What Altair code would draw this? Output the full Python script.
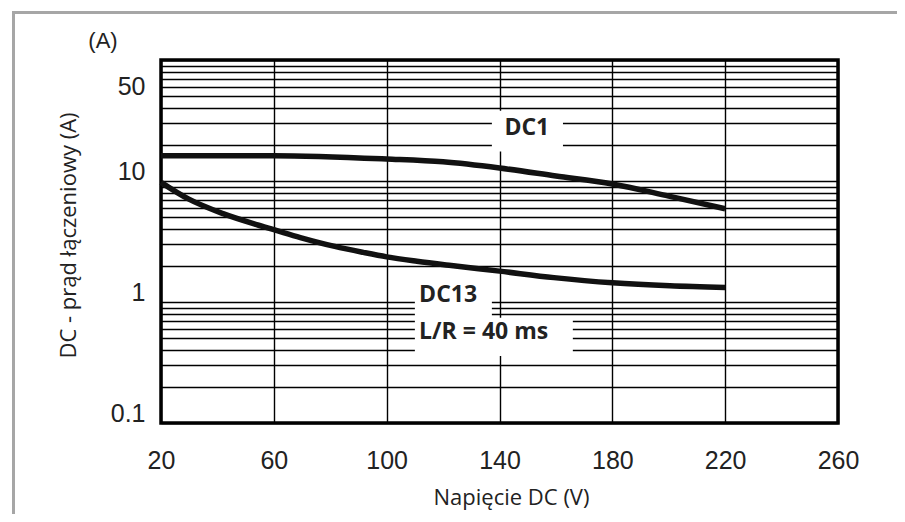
import altair as alt
import pandas as pd

# DC1 curve
dc1_v = [20, 60, 100, 120, 140, 160, 180, 200, 220]
dc1_a = [16.2, 16.2, 15.2, 14.4, 12.8, 11.0, 9.45, 7.5, 5.9]
# DC13 curve
dc13_v = [20, 29.7, 42, 53.9, 60, 69.4, 81.6, 91.7, 100, 110.7, 122.9, 140, 159.3, 180, 200.4, 220]
dc13_a = [9.75, 7.11, 5.37, 4.36, 3.96, 3.41, 2.88, 2.57, 2.36, 2.17, 2.00, 1.80, 1.59, 1.44, 1.36, 1.32]

x_ticks = [20, 60, 100, 140, 180, 220, 260]
y_grid = [0.1, 0.2, 0.3, 0.4, 0.5, 0.6, 0.7, 0.8, 0.9,
          1, 2, 3, 4, 5, 6, 7, 8, 9,
          10, 20, 30, 40, 50, 60, 70, 80, 90, 100]
y_labels = [0.1, 1, 10, 50]

# annotation boxes (white, break the grid) and texts
box_x1 = [137.3, 110.0, 110.0]
box_x2 = [162.5, 137.3, 166.0]
box_y1 = [17.5, 0.74, 0.358]
box_y2 = [38.0, 1.04, 0.74]
note_text = ["DC1", "DC13", "L/R = 40 ms"]
note_x = [149.7, 111.5, 111.5]
note_y = [27.4, 1.14, 0.565]
note_align = ["center", "left", "left"]

curves = pd.DataFrame(
    {"v": dc1_v + dc13_v,
     "a": dc1_a + dc13_a,
     "s": ["DC1"] * len(dc1_v) + ["DC13"] * len(dc13_v)}
)
boxes = pd.DataFrame({"x1": box_x1, "x2": box_x2, "y1": box_y1, "y2": box_y2})
notes = pd.DataFrame({"t": note_text, "x": note_x, "y": note_y, "al": note_align})

xscale = alt.Scale(domain=[20, 260], nice=False, zero=False)
yscale = alt.Scale(type="log", domain=[0.1, 100], nice=False)

label_expr = "indexof([0.1, 1, 10, 50], datum.value) >= 0 ? format(datum.value, '~g') : ''"

xaxis = alt.Axis(
    values=x_ticks, grid=True, gridColor="#000000", gridWidth=1.4, gridOpacity=1,
    ticks=False, domain=False, labelFont="Liberation Sans", labelFontSize=25,
    labelColor="#222222", labelPadding=25, labelFlush=False,
    title="Napięcie DC (V)", titleFont="Open Sans", titleFontSize=22,
    titleFontWeight="normal", titleColor="#222222", titleX=350, titleY=74,
    titleBaseline="middle", titleAlign="center",
)
yaxis = alt.Axis(
    values=y_grid, grid=True, gridColor="#000000", gridWidth=1.4, gridOpacity=1,
    ticks=False, domain=False, labelExpr=label_expr, labelFont="Liberation Sans",
    labelFontSize=25, labelColor="#222222", labelPadding=16, labelOffset=-10,
    labelFlush=False, labelOverlap=False,
    title="DC - prąd łączeniowy (A)", titleFont="Open Sans", titleFontSize=22,
    titleFontWeight="normal", titleColor="#222222", titleX=-93, titleY=175,
    titleBaseline="middle", titleAlign="center", titleAngle=270,
)

base_axes = alt.Chart(curves).mark_line(opacity=0).encode(
    x=alt.X("v:Q", scale=xscale, axis=xaxis),
    y=alt.Y("a:Q", scale=yscale, axis=yaxis),
)

rects = alt.Chart(boxes).mark_rect(color="white", opacity=1).encode(
    x=alt.X("x1:Q", scale=xscale), x2="x2:Q",
    y=alt.Y("y1:Q", scale=yscale), y2="y2:Q",
)

lines = alt.Chart(curves).mark_line(
    color="#111111", strokeWidth=5.5, interpolate="monotone", strokeCap="butt"
).encode(
    x=alt.X("v:Q", scale=xscale),
    y=alt.Y("a:Q", scale=yscale),
    detail="s:N",
)

texts_c = alt.Chart(notes[notes["al"] == "center"]).mark_text(
    font="Open Sans", fontSize=23, fontWeight="bold", color="#222222",
    align="center", baseline="middle",
).encode(x=alt.X("x:Q", scale=xscale), y=alt.Y("y:Q", scale=yscale), text="t:N")

texts_l = alt.Chart(notes[notes["al"] == "left"]).mark_text(
    font="Open Sans", fontSize=23, fontWeight="bold", color="#222222",
    align="left", baseline="middle",
).encode(x=alt.X("x:Q", scale=xscale), y=alt.Y("y:Q", scale=yscale), text="t:N")

unit = alt.Chart(pd.DataFrame({"t": ["(A)"]})).mark_text(
    font="Liberation Sans", fontSize=22, color="#222222", align="center", baseline="middle"
).encode(x=alt.value(-58), y=alt.value(-19), text="t:N")

frame_v = alt.Chart(pd.DataFrame({"k": [0]})).mark_rule(
    color="#a6a6a6", strokeWidth=3
).encode(x=alt.value(-147.5), y=alt.value(-47.5), y2=alt.value(470))

frame_h = alt.Chart(pd.DataFrame({"k": [0]})).mark_rule(
    color="#a6a6a6", strokeWidth=3
).encode(x=alt.value(-149), x2=alt.value(760), y=alt.value(-47.5))

chart = alt.layer(
    base_axes, rects, lines, texts_c, texts_l, unit, frame_v, frame_h
).properties(
    width=677, height=363,
    autosize=alt.AutoSizeParams(type="none"),
    padding={"left": 153, "top": 52, "right": 59, "bottom": 91},
    background="white",
).configure_view(
    stroke="#000000", strokeWidth=3.5
)

chart.save("out.html", embed_options={"renderer": "svg", "actions": False})
